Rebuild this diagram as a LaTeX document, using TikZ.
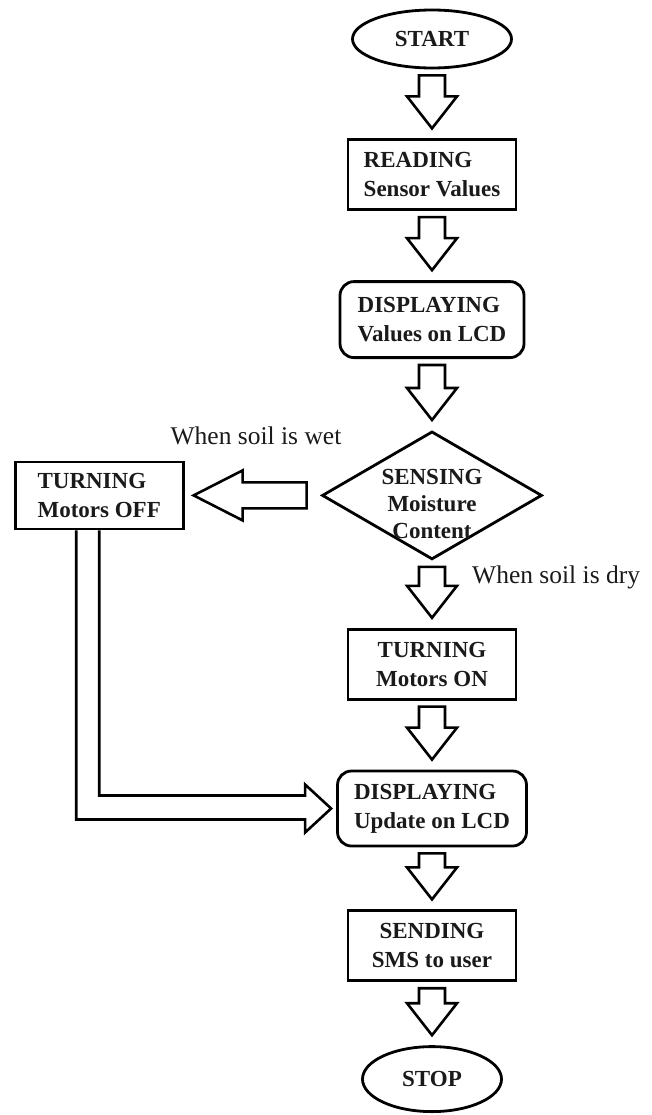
\documentclass[tikz,border=0pt]{standalone}
\usepackage{fontspec}
\setmainfont{Liberation Serif}
\usepackage{tikz}
\usetikzlibrary{positioning,calc,shapes.geometric}
\definecolor{inkline}{HTML}{000000}
\definecolor{inktext}{HTML}{1A1A1A}
\newcommand{\fatdown}[2]{%
  \draw[fatarrow] let \p1=(#1.south), \p2=(#2.north) in
    (\x1-13pt,\y1-6pt) -- (\x1+13pt,\y1-6pt) -- (\x1+13pt,\y2+42pt) -- (\x1+25pt,\y2+42pt)
    -- (\x1,\y2+10pt) -- (\x1-25pt,\y2+42pt) -- (\x1-13pt,\y2+42pt) -- cycle;}
\newcommand{\fatleft}[2]{%
  \draw[fatarrow] let \p1=(#1.west), \p2=(#2.east) in
    (\x1-14pt,\y2+13pt) -- (\x1-14pt,\y2-13pt) -- (\x2+58pt,\y2-13pt) -- (\x2+58pt,\y2-25pt)
    -- (\x2+9pt,\y2) -- (\x2+58pt,\y2+25pt) -- (\x2+58pt,\y2+13pt) -- cycle;}
\newcommand{\fatelbow}[2]{%
  \draw[fatarrow] let \p1=(#1.south), \p2=(#2.west) in
    (\x1-23pt,\y1) -- (\x1-23pt,\y2-11pt) -- (\x2-31pt,\y2-11pt) -- (\x2-31pt,\y2-24pt)
    -- (\x2-5pt,\y2) -- (\x2-31pt,\y2+24pt) -- (\x2-31pt,\y2+13pt) -- (\x1,\y2+13pt) -- (\x1,\y1);}

\begin{document}
\begin{tikzpicture}[
  x=1pt, y=-1pt,
  node distance=69pt and 136pt,
  base/.style={draw=inkline, line width=2.8pt, text=inktext, font=\fontsize{23}{29}\selectfont\bfseries, inner sep=0pt},
  box/.style={base, rectangle, align=center, minimum width=168pt, minimum height=70pt},
  rbox/.style={base, rectangle, rounded corners=14pt, align=left, minimum height=76pt},
  term/.style={base, ellipse},
  decision/.style={base, diamond, minimum width=220pt, minimum height=128pt},
  lbl/.style={text=inktext, font=\fontsize{25.5}{28}\selectfont, inner sep=0pt},
  fatarrow/.style={draw=inkline, line width=2.6pt, fill=white}
]
\useasboundingbox (0,0) rectangle (652,1115);

\node[term, minimum width=159pt, minimum height=58pt] (start) at (432,39) {START};
\node[box, align=left, below=of start] (reading) {READING\\Sensor Values};
\node[rbox, minimum width=184pt, below=of reading] (dispval) {DISPLAYING\\Values on LCD};
\node[decision, below=71pt of dispval] (sensing) {};
\node[base, draw=none, align=center, yshift=-9pt, font=\fontsize{23}{27}\selectfont\bfseries] (sensetext) at (sensing.center) {SENSING\\Moisture\\Content};
\node[box, align=left, minimum height=67pt, left=of sensing] (motoroff) {TURNING\\Motors OFF};
\node[box, below=67pt of sensing] (motoron) {TURNING\\Motors ON};
\node[rbox, minimum width=189pt, minimum height=75pt, below=of motoron] (dispupd) {DISPLAYING\\Update on LCD};
\node[box, below=62pt of dispupd] (sending) {SENDING\\SMS to user};
\node[term, minimum width=139pt, minimum height=65pt, below=63pt of sending] (stop) {STOP};

\node[lbl] (wetlbl) at (256,436) {When soil is wet};
\node[lbl, anchor=west] (drylbl) at (472,577) {When soil is dry};

\fatdown{start}{reading}
\fatdown{reading}{dispval}
\fatdown{dispval}{sensing}
\fatdown{sensing}{motoron}
\fatdown{motoron}{dispupd}
\fatdown{dispupd}{sending}
\fatdown{sending}{stop}
\fatleft{sensing}{motoroff}
\fatelbow{motoroff}{dispupd}
\end{tikzpicture}
\end{document}
